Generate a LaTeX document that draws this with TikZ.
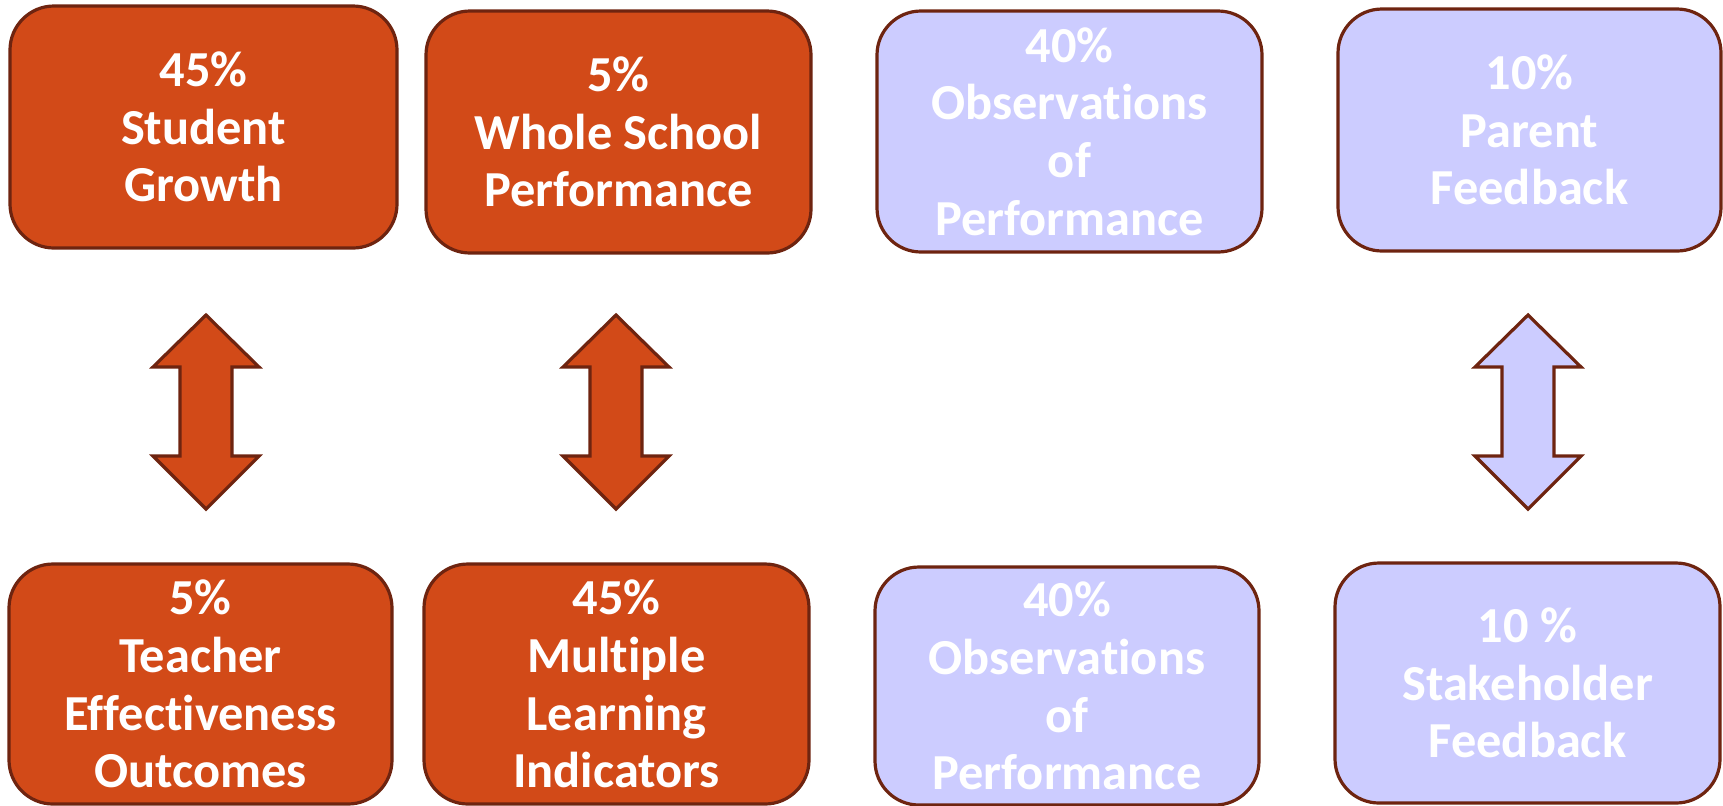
\documentclass[tikz,border=0pt]{standalone}
\usepackage{fontspec}
\setmainfont[RawFeature=-liga]{Carlito}
\definecolor{orangefill}{HTML}{D24A18}
\definecolor{lavfill}{HTML}{CCCCFF}
\definecolor{brownline}{HTML}{6E2410}
\tikzset{
  boxbase/.style={draw=brownline, line width=1.6pt, rounded corners=22pt, align=center,
    text=white, font=\bfseries\fontsize{25.2}{28.8}\selectfont, inner sep=0pt},
  orangebox/.style={boxbase, fill=orangefill},
  lavbox/.style={boxbase, fill=lavfill},
  orangearrow/.style={draw=brownline, line width=1.6pt, fill=orangefill, line join=miter},
  lavarrow/.style={draw=brownline, line width=1.6pt, fill=lavfill, line join=miter},
}
\begin{document}
\begin{tikzpicture}[x=0.5pt,y=-0.5pt]
\useasboundingbox (0,0) rectangle (1723,805);
\node[orangebox, minimum width=193.5pt, minimum height=121pt] (sg) at (203.5,127) {45\%\\Student\\Growth};
\node[orangebox, minimum width=192.5pt, minimum height=121pt] (ws) at (618.5,132) {5\%\\Whole School\\Performance};
\node[lavbox, minimum width=192.5pt, minimum height=120.5pt] (ob1) at (1069.5,131.5) {40\%\\Observations\\of\\Performance};
\node[lavbox, minimum width=191.5pt, minimum height=121pt] (pf) at (1529.5,130) {10\%\\Parent\\Feedback};
\node[orangebox, minimum width=191.5pt, minimum height=120pt] (te) at (200.5,684) {5\%\\Teacher\\Effectiveness\\Outcomes};
\node[orangebox, minimum width=192.5pt, minimum height=120pt] (ml) at (616.5,684) {45\%\\Multiple\\Learning\\Indicators};
\node[lavbox, minimum width=192pt, minimum height=119pt] (ob2) at (1067,686) {40\%\\Observations\\of\\Performance};
\node[lavbox, minimum width=192.5pt, minimum height=120pt] (sf) at (1527.5,683) {10 \%\\Stakeholder\\Feedback};
% double arrows
\draw[orangearrow] (206,315) -- (259,367) -- (232,367) -- (232,456) -- (259,456) -- (206,509)
  -- (153,456) -- (180,456) -- (180,367) -- (153,367) -- cycle;
\draw[orangearrow] (616,315) -- (669,367) -- (642,367) -- (642,456) -- (669,456) -- (616,509)
  -- (563,456) -- (590,456) -- (590,367) -- (563,367) -- cycle;
\draw[lavarrow] (1528,315) -- (1581,367) -- (1554,367) -- (1554,456) -- (1581,456) -- (1528,509)
  -- (1475,456) -- (1502,456) -- (1502,367) -- (1475,367) -- cycle;
\end{tikzpicture}
\end{document}
